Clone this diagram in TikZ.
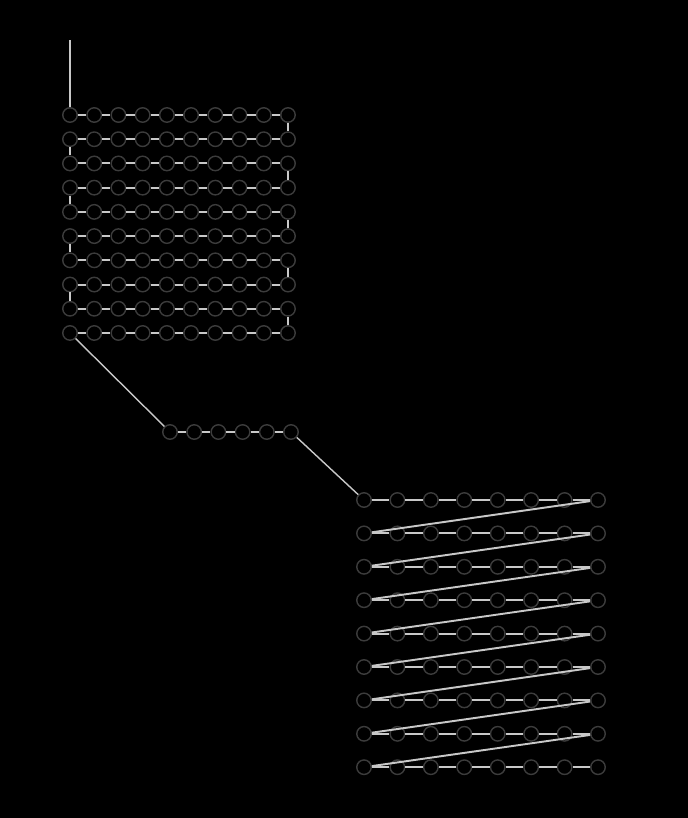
\documentclass[tikz,border=0pt]{standalone}
\usetikzlibrary{positioning}
\definecolor{ringgray}{HTML}{3C3C3C}
\definecolor{linkgray}{HTML}{C8C8C8}
\begin{document}
\begin{tikzpicture}[x=0.02cm,y=-0.02cm,
    unit/.style={draw=ringgray, circle, line width=0.8pt, minimum size=0.29cm, inner sep=0pt},
    link/.style={draw=linkgray, line width=1.1pt},
    thinlink/.style={draw=linkgray, line width=0.8pt}]
  \fill[black] (0,0) rectangle (688,818);
  \useasboundingbox (0,0) rectangle (688,818);

  % top block: 10 x 10 units, snake order
  \foreach \r in {1,...,10}
    \foreach \c in {1,...,10}
      \node[unit] (t-\r-\c) at ({70+24.22*(\c-1)},{115+24.22*(\r-1)}) {};
  \coordinate (feed) at (70,40);
  \draw[link] (feed) -- (t-1-1);
  \foreach \r in {1,...,10}{
    \foreach \c in {1,...,9}{
      \pgfmathtruncatemacro{\nc}{\c+1}
      \draw[link] (t-\r-\c) -- (t-\r-\nc);
    }
  }
  \foreach \r [evaluate=\r as \s using int(\r+1)] in {1,3,5,7,9}
    \draw[link] (t-\r-10) -- (t-\s-10);
  \foreach \r [evaluate=\r as \s using int(\r+1)] in {2,4,6,8}
    \draw[link] (t-\r-1) -- (t-\s-1);

  % middle row: 6 units
  \foreach \i in {1,...,6}
    \node[unit] (m-\i) at ({170+24.2*(\i-1)},432) {};
  \foreach \i [evaluate=\i as \j using int(\i+1)] in {1,...,5}
    \draw[link] (m-\i) -- (m-\j);
  \draw[thinlink] (t-10-1) -- (m-1);

  % bottom block: 9 rows x 8 units, raster order
  \foreach \r in {1,...,9}
    \foreach \c in {1,...,8}
      \node[unit] (b-\r-\c) at ({364+33.43*(\c-1)},{500+33.4*(\r-1)}) {};
  \draw[thinlink] (m-6) -- (b-1-1);
  \foreach \r in {1,...,9}{
    \foreach \c in {1,...,7}{
      \pgfmathtruncatemacro{\nc}{\c+1}
      \draw[link] (b-\r-\c) -- (b-\r-\nc);
    }
  }
  \foreach \r [evaluate=\r as \s using int(\r+1)] in {1,...,8}
    \draw[link] (b-\r-8) -- (b-\s-1);
\end{tikzpicture}
\end{document}
